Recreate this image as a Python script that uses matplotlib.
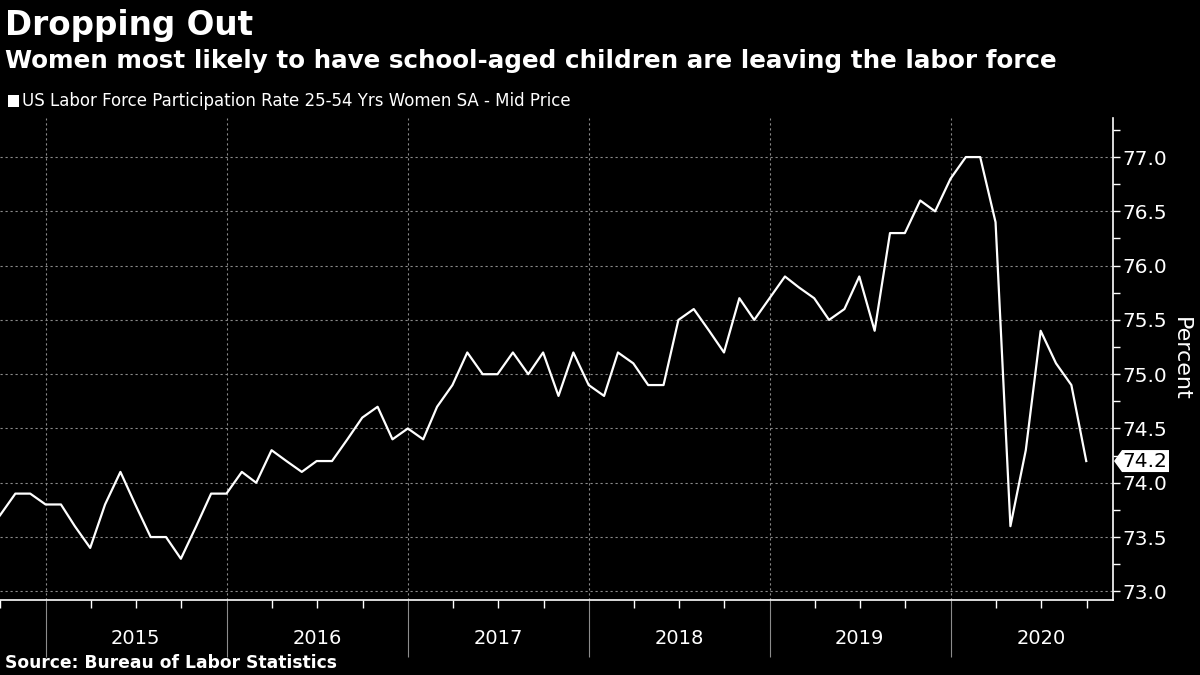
import calendar
import datetime as dt
import matplotlib
matplotlib.use("Agg")
import matplotlib.pyplot as plt
import matplotlib.dates as mdates
import matplotlib.transforms as mtransforms
from matplotlib.patches import Polygon, Rectangle

# monthly values, Sep 2014 .. Sep 2020
start_year, start_month = 2014, 9
rate = [73.7, 73.9, 73.9, 73.8,
        73.8, 73.6, 73.4, 73.8, 74.1, 73.8, 73.5, 73.5, 73.3, 73.6, 73.9, 73.9,
        74.1, 74.0, 74.3, 74.2, 74.1, 74.2, 74.2, 74.4, 74.6, 74.7, 74.4, 74.5,
        74.4, 74.7, 74.9, 75.2, 75.0, 75.0, 75.2, 75.0, 75.2, 74.8, 75.2, 74.9,
        74.8, 75.2, 75.1, 74.9, 74.9, 75.5, 75.6, 75.4, 75.2, 75.7, 75.5, 75.7,
        75.9, 75.8, 75.7, 75.5, 75.6, 75.9, 75.4, 76.3, 76.3, 76.6, 76.5, 76.8,
        77.0, 77.0, 76.4, 73.6, 74.3, 75.4, 75.1, 74.9, 74.2]
years = [2015, 2016, 2017, 2018, 2019, 2020]
yticks = [73.0, 73.5, 74.0, 74.5, 75.0, 75.5, 76.0, 76.5, 77.0]

title = "Dropping Out"
subtitle = "Women most likely to have school-aged children are leaving the labor force"
series_name = "US Labor Force Participation Rate 25-54 Yrs Women SA - Mid Price"
source = "Source: Bureau of Labor Statistics"

# month-end dates (Bloomberg plots monthly data at end of month)
dates = []
y, m = start_year, start_month
for _ in rate:
    dates.append(dt.date(y, m, calendar.monthrange(y, m)[1]))
    m += 1
    if m > 12:
        m = 1
        y += 1

fig = plt.figure(figsize=(12, 6.75), dpi=100, facecolor="black")
ax = fig.add_axes([0.0, 0.1111, 0.9275, 0.7141])
ax.set_facecolor("black")

ax.plot(dates, rate, color="white", lw=1.6, zorder=3)

ax.set_xlim(dates[0], dt.date(2020, 11, 23))
ax.set_ylim(72.92, 77.36)

# right axis
ax.yaxis.tick_right()
ax.yaxis.set_label_position("right")
ax.set_yticks(yticks)
ax.set_yticklabels([f"{v:.1f}" for v in yticks])
ax.yaxis.set_minor_locator(matplotlib.ticker.MultipleLocator(0.25))
ax.tick_params(axis="y", which="major", colors="white", labelsize=14.5,
               length=5, width=1, pad=2)
ax.tick_params(axis="y", which="minor", colors="white", length=5, width=1)
ax.set_ylabel("Percent", color="white", fontsize=16, rotation=270,
              labelpad=17)

# x axis: year separators + quarter ticks
ax.xaxis.set_major_locator(mdates.YearLocator())
ax.xaxis.set_minor_locator(mdates.MonthLocator(bymonth=[1, 4, 7, 10]))
ax.xaxis.set_major_formatter(matplotlib.ticker.NullFormatter())
ax.tick_params(axis="x", which="major", colors="#8c8c8c", length=41, width=0.8)
ax.tick_params(axis="x", which="minor", colors="white", length=6, width=1)
xtrans = ax.get_xaxis_transform()
for yr in years:
    ax.text(dt.date(yr, 7, 1), -0.079, str(yr), transform=xtrans,
            color="white", fontsize=14, ha="center", va="center")

for s in ["top", "left"]:
    ax.spines[s].set_visible(False)
for s in ["right", "bottom"]:
    ax.spines[s].set_color("white")
    ax.spines[s].set_linewidth(1.2)

ax.grid(True, which="major", color="#8a8a8a", lw=0.8, ls=(0, (2, 2.5)))
ax.set_axisbelow(True)

# last value tag
anchor = mtransforms.ScaledTranslation(1, rate[-1], ax.get_yaxis_transform())
tag_tr = fig.dpi_scale_trans + anchor
tag = Polygon([(0.01, 0), (0.09, 0.11), (0.56, 0.11), (0.56, -0.11),
               (0.09, -0.11)], closed=True, transform=tag_tr,
              facecolor="white", edgecolor="none", clip_on=False, zorder=5)
ax.add_patch(tag)
ax.text(0.095, 0, f"{rate[-1]:.1f}", transform=tag_tr, color="black",
        fontsize=14.5, ha="left", va="center", zorder=6, clip_on=False)

# titles
fig.text(0.004, 0.962, title, color="white", fontsize=23.5, fontweight="bold",
         ha="left", va="center")
fig.text(0.004, 0.910, subtitle, color="white", fontsize=17.7,
         fontweight="bold", ha="left", va="center")
fig.add_artist(Rectangle((8 / 1200, 1 - 107 / 675), 11 / 1200, 12 / 675,
                         transform=fig.transFigure, facecolor="white",
                         edgecolor="none"))
fig.text(22 / 1200, 1 - 101 / 675, series_name, color="white", fontsize=12.0,
         ha="left", va="center")
fig.text(0.004, 1 - 663 / 675, source, color="white", fontsize=12.3,
         fontweight="bold", ha="left", va="center")

fig.savefig("out.png", dpi=100, facecolor="black")
